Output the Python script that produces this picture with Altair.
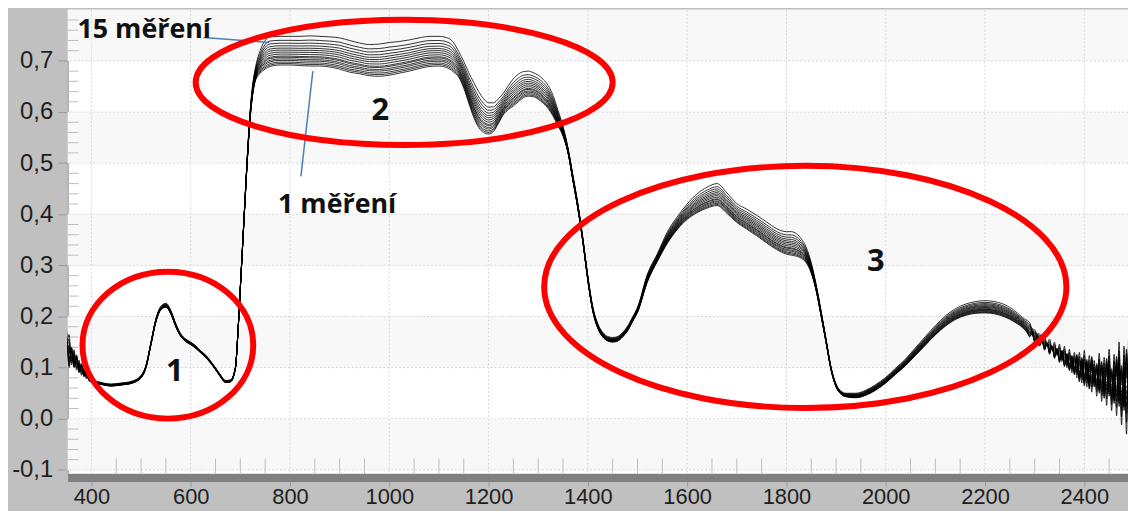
import altair as alt
import pandas as pd

# ---------------- data ----------------
wavelength_nm = [
    350, 355, 360, 365, 370, 375, 380, 385, 390, 395, 400,
    420, 440, 460, 480, 500, 510, 520, 530, 540, 550, 560, 570, 580, 590,
    600, 610, 620, 630, 640, 650, 660, 670, 680,
    690, 695, 700, 705, 710, 715, 720, 725, 730, 740, 750, 760, 780,
    800, 820, 840, 860, 880, 900, 920, 940, 960, 980, 1000, 1020, 1040, 1060, 1080, 1100,
    1120, 1130, 1140, 1150, 1160, 1170, 1180, 1190, 1200, 1210, 1220, 1230, 1240, 1250,
    1260, 1270, 1280, 1290, 1300, 1310, 1320, 1330, 1340, 1350, 1360, 1370, 1380, 1390,
    1400, 1410, 1420, 1430, 1440, 1450, 1460, 1470, 1480, 1490, 1500,
    1520, 1540, 1560, 1580, 1600, 1620, 1640, 1660, 1680, 1700, 1720, 1740, 1760, 1780,
    1800, 1810, 1820, 1830, 1840, 1850, 1860, 1870, 1880, 1890, 1900, 1910, 1920, 1940,
    1960, 1980,
    2000, 2020, 2040, 2060, 2080, 2100, 2120, 2140, 2160, 2180, 2200, 2220, 2240, 2260, 2280,
    2285, 2290, 2295, 2300, 2305, 2310, 2315, 2320, 2325, 2330, 2335, 2340, 2345, 2350,
    2355, 2360, 2365, 2370, 2375, 2380, 2385, 2390, 2395, 2400, 2405, 2410, 2415, 2420,
    2425, 2430, 2435, 2440, 2445, 2450, 2455, 2460, 2465, 2470, 2475, 2480, 2485, 2490,
    2495, 2500,
]

# lowest spectrum ("1 měření")
refl_meas1 = [
    0.175, 0.100, 0.140, 0.100, 0.125, 0.090, 0.108, 0.082, 0.094, 0.074, 0.072,
    0.067, 0.064, 0.066, 0.069, 0.080, 0.100, 0.145, 0.190, 0.213, 0.218, 0.205, 0.180, 0.161, 0.151,
    0.145, 0.138, 0.129, 0.120, 0.109, 0.096, 0.082, 0.071, 0.072,
    0.098, 0.165, 0.255, 0.345, 0.435, 0.520, 0.590, 0.635, 0.660, 0.676, 0.684, 0.689, 0.692,
    0.692, 0.691, 0.690, 0.690, 0.688, 0.684, 0.678, 0.675, 0.671, 0.670, 0.672, 0.676, 0.680, 0.685, 0.689, 0.690,
    0.685, 0.678, 0.668, 0.647, 0.618, 0.590, 0.570, 0.560, 0.557, 0.562, 0.578, 0.595, 0.605, 0.612,
    0.620, 0.628, 0.631, 0.630, 0.625, 0.617, 0.607, 0.592, 0.573, 0.553, 0.520, 0.465, 0.410, 0.345,
    0.270, 0.210, 0.177, 0.160, 0.152, 0.150, 0.152, 0.160, 0.172, 0.190, 0.208,
    0.268, 0.308, 0.343, 0.370, 0.390, 0.403, 0.412, 0.417, 0.402, 0.384, 0.371, 0.358, 0.344, 0.331,
    0.322, 0.320, 0.318, 0.314, 0.305, 0.285, 0.250, 0.200, 0.148, 0.095, 0.062, 0.048, 0.043, 0.041,
    0.046, 0.056,
    0.070, 0.087, 0.104, 0.124, 0.144, 0.164, 0.181, 0.194, 0.202, 0.206, 0.207, 0.205, 0.199, 0.189, 0.174,
    0.168, 0.160, 0.166, 0.150, 0.158, 0.142, 0.152, 0.134, 0.148, 0.126, 0.142, 0.118, 0.138, 0.110,
    0.134, 0.102, 0.128, 0.094, 0.124, 0.086, 0.126, 0.072, 0.120, 0.064, 0.116, 0.058, 0.122, 0.062,
    0.108, 0.050, 0.112, 0.040, 0.118, 0.044, 0.098, 0.030, 0.122, 0.024, 0.104, 0.016, 0.136, -0.004,
    0.126, 0.006,
]

# highest spectrum ("15 měření")
refl_meas15 = [
    0.130, 0.165, 0.105, 0.135, 0.095, 0.115, 0.085, 0.100, 0.078, 0.086, 0.078,
    0.071, 0.068, 0.070, 0.073, 0.085, 0.105, 0.150, 0.196, 0.220, 0.226, 0.212, 0.186, 0.166, 0.156,
    0.150, 0.143, 0.133, 0.125, 0.113, 0.100, 0.086, 0.075, 0.076,
    0.100, 0.168, 0.258, 0.350, 0.442, 0.530, 0.605, 0.655, 0.685, 0.720, 0.740, 0.747, 0.748,
    0.748, 0.748, 0.749, 0.748, 0.747, 0.745, 0.740, 0.735, 0.732, 0.733, 0.736, 0.738, 0.741, 0.745, 0.748, 0.748,
    0.744, 0.735, 0.718, 0.699, 0.677, 0.658, 0.640, 0.626, 0.618, 0.618, 0.626, 0.637, 0.652, 0.665,
    0.674, 0.679, 0.680, 0.677, 0.672, 0.664, 0.652, 0.632, 0.603, 0.572, 0.530, 0.476, 0.420, 0.353,
    0.279, 0.219, 0.186, 0.169, 0.161, 0.159, 0.161, 0.169, 0.181, 0.199, 0.218,
    0.283, 0.323, 0.365, 0.395, 0.420, 0.440, 0.453, 0.460, 0.442, 0.421, 0.410, 0.398, 0.385, 0.372,
    0.366, 0.366, 0.362, 0.352, 0.335, 0.305, 0.262, 0.210, 0.155, 0.100, 0.068, 0.054, 0.050, 0.050,
    0.056, 0.067,
    0.081, 0.099, 0.117, 0.139, 0.161, 0.182, 0.201, 0.215, 0.224, 0.229, 0.231, 0.229, 0.223, 0.211, 0.195,
    0.192, 0.188, 0.176, 0.174, 0.166, 0.166, 0.156, 0.160, 0.146, 0.156, 0.136, 0.150, 0.124, 0.146,
    0.112, 0.142, 0.100, 0.136, 0.090, 0.130, 0.080, 0.130, 0.070, 0.134, 0.062, 0.124, 0.052, 0.114,
    0.044, 0.128, 0.034, 0.120, 0.026, 0.136, 0.016, 0.126, 0.006, 0.150, -0.012, 0.142, -0.030, 0.176,
    -0.040, 0.150,
]

# relative position of each of the 15 measurements inside the bundle
meas_level = [0.0, 0.05, 0.10, 0.16, 0.21, 0.27, 0.31, 0.38, 0.45, 0.52, 0.59, 0.67, 0.76, 0.86, 1.0]

x_major = [400, 600, 800, 1000, 1200, 1400, 1600, 1800, 2000, 2200, 2400]
y_major = [-0.1, 0.0, 0.1, 0.2, 0.3, 0.4, 0.5, 0.6, 0.7]
x_minor = [v for v in range(350, 2501, 50) if v % 200 != 0]
y_minor = [round(-0.1 + 0.02 * i, 2) for i in range(46) if i % 5 != 0]
band_lo = [-0.1, 0.1, 0.3, 0.5, 0.7]
band_hi = [0.0, 0.2, 0.4, 0.6, 0.8]

# annotations
label_text = ["15 měření", "1 měření"]
label_x = [372, 776]
label_y = [0.744, 0.402]
num_text = ["1", "2", "3"]
num_x = [568, 982, 1980]
num_y = [0.074, 0.584, 0.289]
lead_x1 = [626, 846]
lead_y1 = [0.7456, 0.680]
lead_x2 = [758, 822]
lead_y2 = [0.736, 0.474]
ell_x = [554, 1030, 1838]
ell_y = [0.144, 0.658, 0.258]
ell_rx = [86, 210, 263]
ell_ry = [74, 63, 122]

assert len(wavelength_nm) == len(refl_meas1) == len(refl_meas15)

rows = []
for k, f in enumerate(meas_level, start=1):
    for w, a, b in zip(wavelength_nm, refl_meas1, refl_meas15):
        rows.append({"m": k, "wl": w, "r": round(a + (b - a) * f, 4)})
spectra = pd.DataFrame(rows)

# ---------------- chart ----------------
W, H = 1068, 467
xs = alt.Scale(domain=[352, 2488], nice=False, zero=False)
ys = alt.Scale(domain=[-0.107, 0.8], nice=False, zero=False)
AXIS_FONT = "Liberation Sans"
TEXT_FONT = "Open Sans"

x_axis = alt.Axis(
    values=x_major, format="d", title=None, grid=False,
    domainColor="#808080", domainWidth=8, offset=4,
    tickSize=9, tickColor="#9a9a9a", tickWidth=1,
    labelFont=AXIS_FONT, labelFontSize=22, labelColor="#1e1e1e",
    labelPadding=0, labelOverlap=False, labelFlush=False,
)
y_axis = alt.Axis(
    values=y_major, title=None, grid=False,
    domainColor="#a3a3a3", domainWidth=1.5,
    tickSize=10, tickColor="#9a9a9a", tickWidth=1,
    labelFont=AXIS_FONT, labelFontSize=24, labelColor="#1e1e1e",
    labelPadding=5, labelOverlap=False, labelFlush=False,
    labelExpr="(datum.value < 0 ? '-' : '') + replace(format(abs(datum.value), '.1f'), '.', ',')",
)


def X(field):
    return alt.X(field, scale=xs, axis=x_axis)


def Y(field):
    return alt.Y(field, scale=ys, axis=y_axis)


bands = alt.Chart(pd.DataFrame({"lo": band_lo, "hi": band_hi})).mark_rect(
    color="#f8f8f8"
).encode(y=Y("lo:Q"), y2="hi:Q", x=alt.value(0), x2=alt.value(W))

grid_x = alt.Chart(pd.DataFrame({"v": x_major})).mark_rule(
    color="#d6d6d6", strokeDash=[2, 2], strokeWidth=1
).encode(x=X("v:Q"))

grid_y = alt.Chart(pd.DataFrame({"v": y_major})).mark_rule(
    color="#d6d6d6", strokeDash=[2, 2], strokeWidth=1
).encode(y=Y("v:Q"))

minor_x = alt.Chart(pd.DataFrame({"v": x_minor})).mark_rule(
    color="#bdbdbd", strokeWidth=1
).encode(x=X("v:Q"), y=alt.value(H - 15), y2=alt.value(H))

minor_y = alt.Chart(pd.DataFrame({"v": y_minor})).mark_rule(
    color="#bdbdbd", strokeWidth=1
).encode(y=Y("v:Q"), x=alt.value(0), x2=alt.value(11))

lines = alt.Chart(spectra).mark_line(
    color="black", strokeWidth=0.8, interpolate="monotone", clip=True
).encode(x=X("wl:Q"), y=Y("r:Q"), detail="m:N")

leaders = alt.Chart(pd.DataFrame({"x1": lead_x1, "y1": lead_y1, "x2": lead_x2, "y2": lead_y2})).mark_rule(
    color="#4a7ebb", strokeWidth=1.5
).encode(x=X("x1:Q"), y=Y("y1:Q"), x2="x2:Q", y2="y2:Q")

k = 0.5523
ellipses = []
for cx, cy, rx, ry in zip(ell_x, ell_y, ell_rx, ell_ry):
    b = ry / rx
    kb = k * b
    path = (
        f"M 1 0 C 1 {kb:.4f} {k} {b:.4f} 0 {b:.4f} "
        f"C {-k} {b:.4f} -1 {kb:.4f} -1 0 "
        f"C -1 {-kb:.4f} {-k} {-b:.4f} 0 {-b:.4f} "
        f"C {k} {-b:.4f} 1 {-kb:.4f} 1 0 Z"
    )
    ellipses.append(
        alt.Chart(pd.DataFrame({"x": [cx], "y": [cy]})).mark_point(
            shape=path, size=(2 * rx) ** 2, filled=False,
            stroke="#ff0000", strokeWidth=6, opacity=1,
        ).encode(x=X("x:Q"), y=Y("y:Q"))
    )

labels = alt.Chart(pd.DataFrame({"t": label_text, "x": label_x, "y": label_y})).mark_text(
    font=TEXT_FONT, fontWeight="bold", fontSize=27, align="left", baseline="alphabetic", color="#111111"
).encode(x=X("x:Q"), y=Y("y:Q"), text="t:N")

numbers = alt.Chart(pd.DataFrame({"t": num_text, "x": num_x, "y": num_y})).mark_text(
    font=TEXT_FONT, fontWeight="bold", fontSize=31, align="center", baseline="alphabetic", color="#111111"
).encode(x=X("x:Q"), y=Y("y:Q"), text="t:N")

chart = alt.layer(
    bands, grid_x, grid_y, minor_x, minor_y, lines, leaders, *ellipses, labels, numbers
).properties(
    width=W, height=H,
    padding={"left": 60, "top": 0, "right": 0, "bottom": 36},
    autosize=alt.AutoSizeParams(type="none"),
    background="#c0c0c0",
).configure_view(fill="white", strokeWidth=0)

chart.save("out.html", embed_options={"renderer": "svg", "actions": False})
